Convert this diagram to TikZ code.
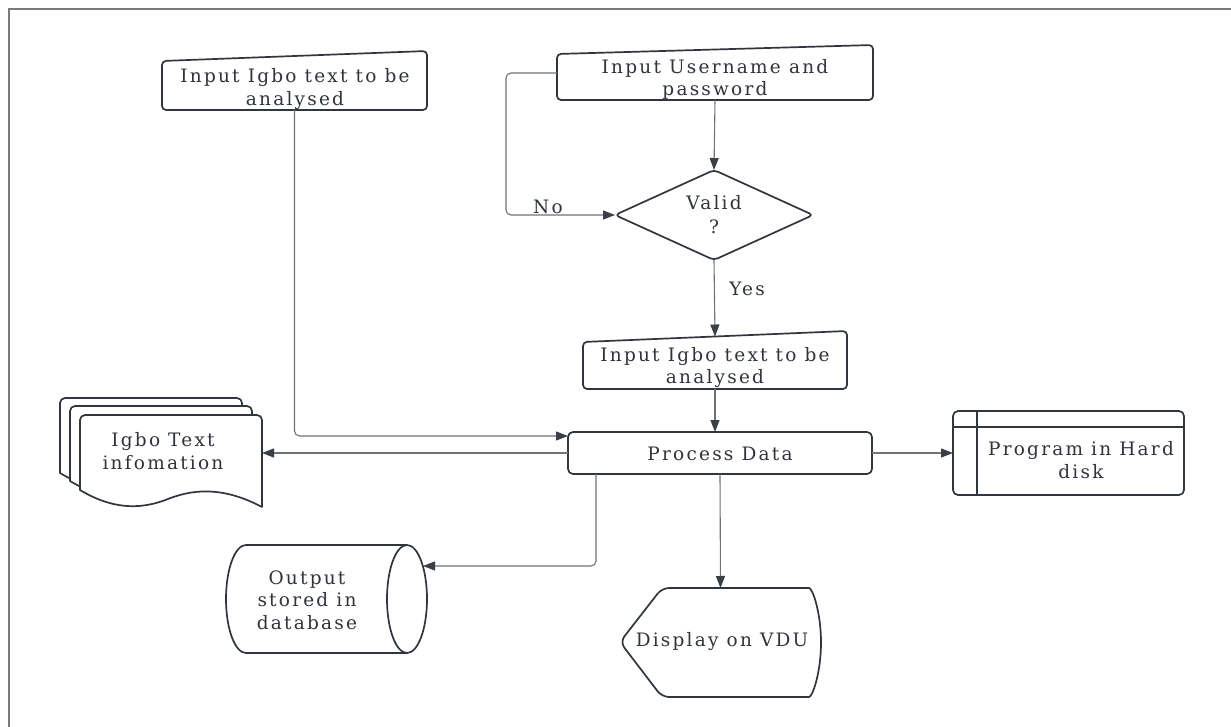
\documentclass[tikz,border=0pt]{standalone}
\usepackage{fontspec}
\setmainfont{DejaVu Serif}[LetterSpace=12]
\usetikzlibrary{arrows.meta}
\definecolor{shpc}{HTML}{31363D}
\definecolor{txtc}{HTML}{30343A}
\definecolor{linec}{HTML}{6F7378}
\definecolor{arrc}{HTML}{3A3F47}
\definecolor{bordc}{HTML}{7A7A7A}
\begin{document}
\begin{tikzpicture}[x=1pt,y=-1pt,
  shp/.style={draw=shpc, line width=1.7pt, fill=white, line join=round},
  anch/.style={rectangle, draw=none, inner sep=0pt, outer sep=0pt},
  lbl/.style={align=center, inner sep=0pt, text=txtc, font=\fontsize{18.5}{22.5}\selectfont},
  conn/.style={draw=linec, line width=1.1pt, rounded corners=5pt},
  arr/.style={conn, -{Triangle[length=12pt,width=9pt,color=arrc,fill=arrc]}},
]
\useasboundingbox (0,0) rectangle (1231,727);
\fill[white] (0,0) rectangle (1231,727);
% border (top and left visible)
\draw[bordc, line width=1.6pt] (9,727) -- (9,9) -- (1231,9);

% ---------- shapes ----------
% Input Igbo text (top left)
\draw[shp, rounded corners=4pt] (162,61) -- (427,51) -- (427,110) -- (162,110) -- cycle;
\node[anch, minimum width=265pt, minimum height=50pt] (in1) at (294.5,85) {};
\node[lbl] (in1t) at (295,89) {Input Igbo text to be\\analysed};

% Input Username and password
\draw[shp, rounded corners=4pt] (557,54) -- (873,45) -- (873,100) -- (557,100) -- cycle;
\node[anch, minimum width=316pt, minimum height=46pt] (user) at (715,77) {};
\node[lbl] (usert) at (715,79.5) {Input Username and\\password};

% Valid ?
\draw[shp, rounded corners=4pt] (615,215) -- (714,170) -- (813,215) -- (714,260) -- cycle;
\node[anch, minimum width=198pt, minimum height=90pt] (valid) at (714,215) {};
\node[lbl, font=\fontsize{18.5}{24}\selectfont] (validt) at (714,215) {Valid\\?};

% Input Igbo text (middle)
\draw[shp, rounded corners=4pt] (583,342) -- (847,331) -- (847,389) -- (583,389) -- cycle;
\node[anch, minimum width=264pt, minimum height=52.5pt] (in3) at (715,362.75) {};
\node[lbl] (in3t) at (715,367.5) {Input Igbo text to be\\analysed};

% Process Data
\draw[shp, rounded corners=5pt] (568,432) rectangle (872,474);
\node[anch, minimum width=304pt, minimum height=42pt] (proc) at (720,453) {};
\node[lbl] (proct) at (720,454) {Process Data};

% Program in Hard disk (predefined process)
\draw[shp, rounded corners=5pt] (953,411) rectangle (1184,495);
\draw[shpc, line width=1.7pt] (977,411) -- (977,495);
\draw[shpc, line width=1.7pt] (953,427) -- (1184,427);
\node[anch, minimum width=231pt, minimum height=84pt] (hd) at (1068.5,453) {};
\node[lbl] (hdt) at (1081,460) {Program in Hard\\disk};

% Igbo Text information (multi-document)
\foreach \dx/\dy in {-20/-17,-10/-9,0/0}{
  \begin{scope}[shift={(\dx,\dy)}]
    \draw[shp] (80,490) [rounded corners=5pt] -- (80,415) -- (262,415) [sharp corners] -- (262,507)
      .. controls (228,489) and (198,487) .. (168,499)
      .. controls (138,511) and (110,508) .. (80,490) -- cycle;
  \end{scope}
}
\node[anch, minimum width=182pt, minimum height=92pt] (doc) at (171,461) {};
\node[lbl] (doct) at (163,451) {Igbo Text\\infomation};

% Output stored in database (cylinder)
\draw[shp] (246,545) -- (407,545)
  arc[start angle=90, end angle=-90, x radius=20pt, y radius=54pt]
  -- (246,653)
  arc[start angle=270, end angle=90, x radius=20pt, y radius=54pt] -- cycle;
\draw[shpc, line width=1.7pt] (407,545) arc[start angle=90, end angle=270, x radius=20pt, y radius=54pt];
\node[anch, minimum width=201pt, minimum height=108pt] (db) at (326.5,599) {};
\node[lbl] (dbt) at (307,600) {Output\\stored in\\database};
\coordinate (dbin) at (423,566);

% Display on VDU
\draw[shp, rounded corners=7pt] (620,642) -- (662,588) -- (802,588)
  arc[start angle=90, end angle=-90, x radius=19pt, y radius=54.5pt]
  -- (662,697) -- cycle;
\node[anch, minimum width=201pt, minimum height=109pt] (vdu) at (720.5,642.5) {};
\node[lbl] (vdut) at (722,642) {Display on VDU};

% ---------- connectors ----------
\draw[arr] (in1.south) |- ([yshift=17pt]proc.west);
\draw[arr] ([yshift=4pt]user.west) -- ++(-51,0) |- (valid.west);
\node[lbl] (no) at (548,207) {No};
\draw[arr] (user.south) -- (valid.north);
\draw[arr] (valid.south) -- (in3.north);
\node[lbl] (yes) at (747,289) {Yes};
\draw[arr] (in3.south) -- (in3.south |- proc.north);
\draw[arr] (proc.west) -- (proc.west -| doc.east);
\draw[arr] (proc.east) -- (hd.west);
\draw[arr] ([xshift=28pt]proc.south west) |- (dbin);
\draw[arr] (proc.south) -- (vdu.north);
\end{tikzpicture}
\end{document}
